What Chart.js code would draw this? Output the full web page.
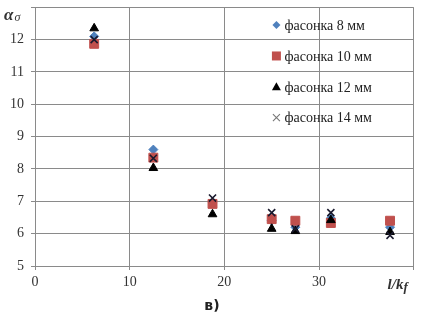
<!DOCTYPE html>
<html><head><meta charset="utf-8">
<script src="https://cdn.jsdelivr.net/npm/chart.js@4/dist/chart.umd.min.js"></script>
<style>html,body{margin:0;padding:0;background:#fff}#w{width:421px;height:320px}</style>
</head><body><div id="w"><canvas id="c"></canvas></div>
<script>
const xValues = [6.25, 12.5, 18.75, 25, 27.5, 31.25, 37.5];
const s8  = [12.1, 8.6, 6.95, 6.4, 6.2, 6.48, 6.2];
const s10 = [11.87, 8.35, 6.92, 6.45, 6.4, 6.33, 6.4];
const s12 = [12.35, 8.03, 6.6, 6.15, 6.08, 6.42, 6.05];
const s14 = [12.0, 8.33, 7.1, 6.65, 6.15, 6.65, 5.95];
const seriesNames = ['фасонка 8 мм', 'фасонка 10 мм', 'фасонка 12 мм', 'фасонка 14 мм'];
const yLabel = 'α';
const ySub = 'σ';
const xLabel = 'l/k';
const xSub = 'f';
const panelLabel = 'в)';

const pts = arr => xValues.map((x, i) => ({x, y: arr[i]}));
const styles = [
  {pointStyle: 'rectRot', radius: 4.5, bg: '#4F81BD', border: '#4F81BD', bw: 1},
  {pointStyle: 'rect', radius: 6.3, bg: '#C0504D', border: '#C0504D', bw: 1},
  {pointStyle: 'triangle', radius: 5, bg: '#000', border: '#000', bw: 1},
  {pointStyle: 'crossRot', radius: 5, bg: '#1a1a2e', border: '#1a1a2e', bw: 1.6}
];
const data = [s8, s10, s12, s14];
const datasets = data.map((d, i) => ({
  label: seriesNames[i], data: pts(d), showLine: false,
  pointStyle: styles[i].pointStyle, pointRadius: styles[i].radius,
  pointBackgroundColor: styles[i].bg, pointBorderColor: styles[i].border,
  pointBorderWidth: styles[i].bw, order: 4 - i
}));

function drawMarker(ctx, st, x, y) {
  ctx.save();
  ctx.fillStyle = st.bg; ctx.strokeStyle = st.border; ctx.lineWidth = st.bw;
  ctx.beginPath();
  if (st.pointStyle === 'rectRot') {
    ctx.moveTo(x, y - 4); ctx.lineTo(x + 4, y); ctx.lineTo(x, y + 4); ctx.lineTo(x - 4, y); ctx.closePath(); ctx.fill();
  } else if (st.pointStyle === 'rect') {
    ctx.rect(x - 4.5, y - 4.5, 9, 9); ctx.fill();
  } else if (st.pointStyle === 'triangle') {
    ctx.moveTo(x, y - 4.5); ctx.lineTo(x + 4.5, y + 3.5); ctx.lineTo(x - 4.5, y + 3.5); ctx.closePath(); ctx.fill();
  } else {
    ctx.strokeStyle = '#777'; ctx.lineWidth = 1.1;
    ctx.moveTo(x - 3.5, y - 3.5); ctx.lineTo(x + 3.5, y + 3.5); ctx.moveTo(x + 3.5, y - 3.5); ctx.lineTo(x - 3.5, y + 3.5); ctx.stroke();
  }
  ctx.restore();
}

const extras = {
  id: 'extras',
  afterDraw(chart) {
    const ctx = chart.ctx;
    const xs = chart.scales.x, ys = chart.scales.y;
    const lx = xs.getPixelForValue(25.5), ly0 = ys.getPixelForValue(12.45);
    const step = ys.getPixelForValue(11) - ys.getPixelForValue(12);
    ctx.save();
    ctx.font = '14px "Liberation Serif"';
    ctx.fillStyle = '#222'; ctx.textBaseline = 'middle'; ctx.textAlign = 'left';
    seriesNames.forEach((n, i) => {
      const y = ly0 + i * step * 0.955;
      drawMarker(ctx, styles[i], lx, y);
      ctx.fillText(n, lx + 8, y + 1);
    });
    const yt = ys.getPixelForValue(13);
    ctx.font = 'italic bold 17px "Liberation Serif"';
    ctx.fillStyle = '#333'; ctx.textAlign = 'left';
    ctx.fillText(yLabel, 4, yt + 8);
    const aw = ctx.measureText(yLabel).width;
    ctx.font = 'italic 12px "Liberation Serif"';
    ctx.fillText(ySub, 4 + aw + 1, yt + 11);
    const xt = xs.getPixelForValue(40);
    ctx.font = 'italic bold 15px "Liberation Serif"';
    const w1 = ctx.measureText(xLabel).width;
    ctx.font = 'italic bold 13px "Liberation Serif"';
    const w2 = ctx.measureText(xSub).width;
    let sx = xt - 16 - (w1 + w2) / 2;
    ctx.font = 'italic bold 15px "Liberation Serif"';
    ctx.fillText(xLabel, sx, 285);
    ctx.font = 'italic bold 13px "Liberation Serif"';
    ctx.fillText(xSub, sx + w1, 288);
    ctx.font = 'bold 14px "DejaVu Sans"';
    ctx.fillStyle = '#222'; ctx.textAlign = 'center';
    ctx.fillText(panelLabel, 212, 306);
    ctx.restore();
  }
};

new Chart(document.getElementById('c'), {
  type: 'scatter',
  data: {datasets},
  options: {
    responsive: true, maintainAspectRatio: false, animation: false,
    layout: {padding: {left: 0, right: 5, top: 5, bottom: 0}},
    plugins: {legend: {display: false}, tooltip: {enabled: false}},
    scales: {
      x: {
        type: 'linear', min: 0, max: 40,
        ticks: {stepSize: 10, color: '#333', font: {family: 'Liberation Serif', size: 14}, padding: 4, maxRotation: 0,
          callback: v => v === 40 ? '' : v},
        grid: {color: '#8a8a8a', lineWidth: 1, tickLength: 4, drawTicks: true},
        border: {color: '#8a8a8a'},
        afterFit: s => { s.height = 54; s.paddingLeft = 0; s.paddingRight = 0; }
      },
      y: {
        min: 5, max: 13,
        ticks: {stepSize: 1, color: '#333', font: {family: 'Liberation Serif', size: 14}, padding: 7,
          callback: v => v === 13 ? '' : v},
        grid: {color: '#8a8a8a', lineWidth: 1, tickLength: 4},
        border: {color: '#8a8a8a'},
        afterFit: s => { s.width = 35; s.paddingTop = 0; s.paddingBottom = 0; }
      }
    }
  },
  plugins: [extras]
});
</script></body></html>
